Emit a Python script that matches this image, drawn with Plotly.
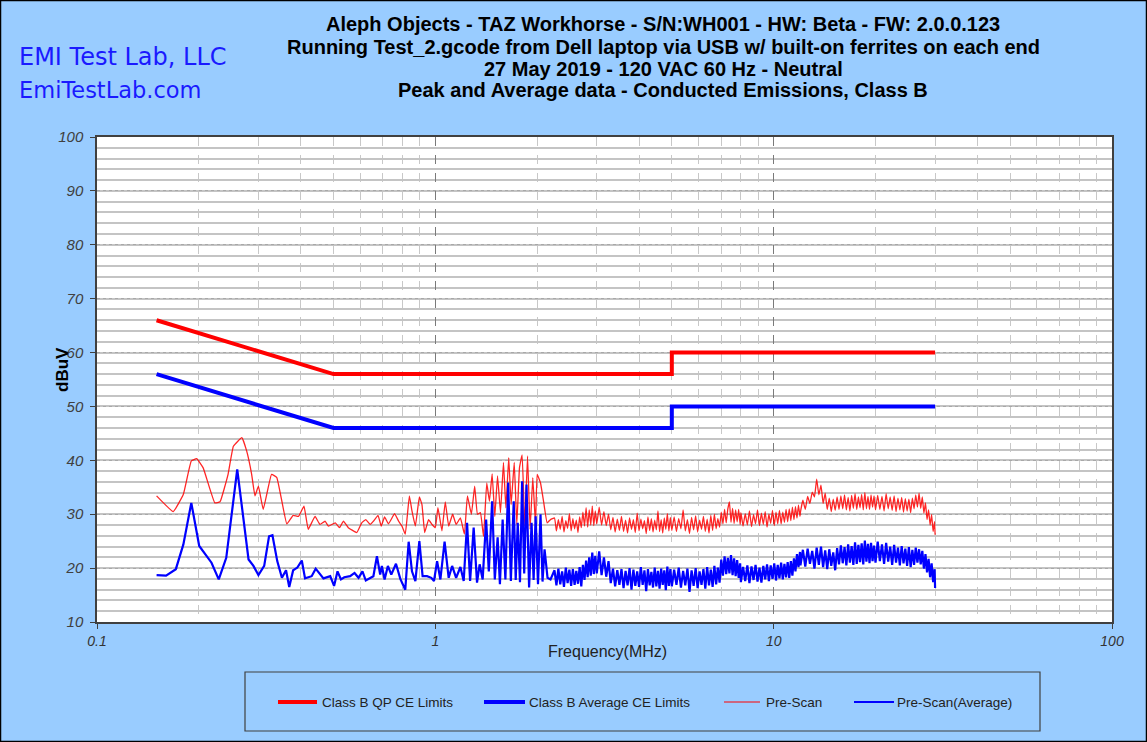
import plotly.graph_objects as go

# ---------------- data ----------------
qp_limit_freq = [0.15, 0.5, 5.0, 5.0, 30.0]
qp_limit_db = [66, 56, 56, 60, 60]
avg_limit_freq = [0.15, 0.5, 5.0, 5.0, 30.0]
avg_limit_db = [56, 46, 46, 50, 50]

peak_lf_freq = [0.150, 0.168, 0.180, 0.190, 0.197, 0.206, 0.223, 0.231, 0.244, 0.253,
                0.268, 0.277, 0.2865, 0.293, 0.300, 0.310, 0.328, 0.340, 0.364, 0.380,
                0.394, 0.409, 0.421, 0.441, 0.456, 0.472, 0.483, 0.506, 0.521, 0.535,
                0.553, 0.586, 0.606, 0.623, 0.642, 0.656, 0.677, 0.692, 0.708, 0.727,
                0.758, 0.779, 0.797, 0.815, 0.838, 0.853, 0.873, 0.897, 0.913, 0.930,
                0.955, 0.978, 1.000, 1.018, 1.046, 1.070, 1.095, 1.125, 1.152, 1.186,
                1.219, 1.244, 1.278, 1.307, 1.332, 1.359, 1.388, 1.419, 1.445, 1.472,
                1.499, 1.527, 1.558, 1.590, 1.616, 1.648, 1.675, 1.711, 1.741, 1.773,
                1.805, 1.838, 1.873, 1.906, 1.941, 1.977, 2.000, 2.046, 2.092, 2.14,
                2.19]
peak_lf_db = [33.4, 30.5, 33.7, 39.9, 40.3, 38.6, 32.1, 32.3, 37.4, 42.6,
              44.2, 41.7, 37.4, 33.4, 35.2, 30.9, 37.4, 36.8, 28.2, 29.8,
              29.6, 31.5, 27.2, 29.6, 28.1, 28.7, 27.8, 28.4, 27.5, 28.7,
              27.5, 26.6, 28.4, 29.0, 28.1, 28.7, 29.8, 27.8, 29.5, 28.2,
              30.1, 28.7, 27.8, 26.3, 33.4, 30.6, 27.8, 33.2, 31.8, 26.6,
              29.0, 28.1, 27.5, 31.2, 26.9, 32.3, 27.8, 30.0, 28.1, 29.3,
              26.3, 33.4, 30.0, 35.2, 30.0, 30.3, 25.9, 35.8, 32.4, 37.5,
              29.6, 37.1, 30.3, 39.6, 31.2, 40.5, 31.8, 39.6, 28.1, 38.6,
              41.0, 27.8, 40.8, 27.2, 36.8, 28.1, 37.4, 35.8, 32.1, 28.4,
              29.0]

avg_lf_freq = [0.150, 0.160, 0.171, 0.180, 0.190, 0.2005, 0.218, 0.229, 0.241, 0.2597,
               0.2805, 0.290, 0.300, 0.312, 0.3225, 0.330, 0.341, 0.352, 0.362, 0.370,
               0.380, 0.391, 0.403, 0.412, 0.431, 0.443, 0.467, 0.489, 0.502, 0.514,
               0.526, 0.538, 0.560, 0.577, 0.593, 0.609, 0.623, 0.642, 0.656, 0.672,
               0.687, 0.695, 0.708, 0.724, 0.741, 0.765, 0.788, 0.815, 0.834, 0.853,
               0.873, 0.897, 0.917, 0.945, 0.973, 0.991, 1.012, 1.035, 1.065, 1.095,
               1.121, 1.152, 1.186, 1.213, 1.241, 1.267, 1.298, 1.328, 1.352, 1.380,
               1.413, 1.439, 1.472, 1.499, 1.528, 1.552, 1.581, 1.611, 1.642, 1.672,
               1.705, 1.728, 1.752, 1.779, 1.805, 1.831, 1.860, 1.893, 1.925, 1.952,
               1.979, 2.011, 2.046, 2.074, 2.103, 2.146, 2.19]
avg_lf_db = [18.7, 18.6, 19.8, 24.4, 32.1, 24.1, 21.0, 17.9, 21.9, 38.3,
             21.6, 20.4, 18.7, 20.4, 25.9, 26.1, 21.3, 18.2, 19.6, 16.5,
             19.6, 20.1, 21.4, 18.1, 18.5, 19.9, 18.1, 18.5, 16.7, 19.4,
             17.9, 18.3, 18.5, 19.1, 18.2, 19.4, 17.7, 18.2, 18.5, 22.2,
             18.8, 20.4, 17.9, 20.4, 18.8, 20.8, 18.0, 16.0, 24.9, 19.4,
             17.6, 25.0, 18.5, 18.5, 18.2, 17.6, 21.3, 17.9, 24.9, 18.2,
             20.4, 18.2, 20.2, 17.6, 28.4, 17.6, 27.5, 17.3, 20.7, 17.9,
             29.0, 19.4, 32.4, 17.9, 25.7, 17.0, 29.0, 17.9, 35.9, 17.6,
             32.4, 17.8, 28.4, 17.4, 36.1, 19.0, 35.5, 16.4, 28.4, 17.8,
             29.6, 17.0, 30.0, 17.5, 23.5, 18.2, 17.9]

# shared sweep frequencies above 2.2 MHz (MHz)
hf_freq = [2.25, 2.28, 2.31, 2.34, 2.37, 2.40, 2.43, 2.46, 2.49, 2.52, 2.55, 2.58, 2.61,
           2.64, 2.67, 2.70, 2.73, 2.76, 2.79, 2.82, 2.85, 2.88, 2.91, 2.94, 2.97,
           3.00, 3.05, 3.10, 3.15, 3.20, 3.25, 3.30, 3.35, 3.40, 3.45, 3.50, 3.55, 3.60,
           3.65, 3.70, 3.75, 3.80, 3.85, 3.90, 3.95, 4.00, 4.05, 4.10, 4.15, 4.20, 4.25,
           4.30, 4.35, 4.40, 4.45, 4.50, 4.55, 4.60, 4.65, 4.70, 4.75, 4.80, 4.85, 4.90, 4.95,
           5.00, 5.08, 5.16, 5.24, 5.32, 5.40, 5.48, 5.56, 5.64, 5.72, 5.80, 5.88, 5.96,
           6.04, 6.12, 6.20, 6.28, 6.36, 6.44, 6.52, 6.60, 6.68, 6.76, 6.84, 6.92,
           7.00, 7.08, 7.16, 7.24, 7.32, 7.40, 7.48, 7.56, 7.64, 7.72, 7.80, 7.88, 7.96,
           8.00, 8.12, 8.24, 8.36, 8.48, 8.60, 8.72, 8.84, 8.96, 9.08, 9.20, 9.32, 9.44,
           9.56, 9.68, 9.80, 9.92, 10.04, 10.16, 10.28, 10.40, 10.52, 10.64, 10.76, 10.88,
           11.00, 11.12, 11.24, 11.36, 11.48, 11.60, 11.72, 11.84, 11.96,
           12.0, 12.2, 12.4, 12.6, 12.8, 13.0, 13.2, 13.4, 13.6, 13.8, 14.0, 14.2, 14.4,
           14.6, 14.8, 15.0, 15.2, 15.4, 15.6, 15.8, 16.0, 16.2, 16.4, 16.6, 16.8, 17.0,
           17.2, 17.4, 17.6, 17.8, 18.0, 18.2, 18.4, 18.6, 18.8, 19.0, 19.2, 19.4, 19.6, 19.8,
           20.0, 20.3, 20.6, 20.9, 21.2, 21.5, 21.8, 22.1, 22.4, 22.7, 23.0, 23.3, 23.6,
           23.9, 24.2, 24.5, 24.8, 25.1, 25.4, 25.7, 26.0, 26.3, 26.6, 26.9, 27.2, 27.5,
           27.8, 28.1, 28.4, 28.7, 29.0, 29.3, 29.6, 29.9, 30.0]

peak_hf_db = [29.3, 26.9, 29.0, 27.2, 29.6, 26.7, 28.8, 27.4, 30.1, 26.9, 29.2, 27.3, 28.9,
              26.6, 29.5, 27.5, 30.4, 27.8, 31.2, 27.6, 30.8, 28.0, 31.5, 27.9, 30.6,
              28.2, 31.3, 28.0, 30.5, 27.9, 30.0, 27.1, 29.4, 26.7, 29.1, 27.0, 29.6, 26.8,
              28.9, 26.5, 29.3, 27.2, 29.0, 26.6, 30.2, 26.9, 29.1, 27.3, 28.8, 26.4, 29.5,
              27.0, 29.2, 26.7, 28.9, 27.1, 30.6, 26.8, 29.0, 26.5, 29.3, 27.2, 30.1, 26.9, 29.4,
              27.0, 29.5, 26.8, 29.2, 27.3, 30.8, 26.9, 29.0, 26.4, 29.4, 27.1, 29.7, 26.7,
              28.9, 27.2, 29.6, 26.8, 29.1, 26.5, 29.8, 27.0, 30.0, 27.3, 29.2, 27.6,
              30.4, 28.2, 30.9, 28.4, 31.0, 32.3, 28.5, 31.1, 28.3, 30.8, 28.6, 30.9, 28.1,
              30.3, 27.8, 30.1, 28.0, 30.6, 27.7, 29.9, 28.2, 30.8, 27.9, 30.2, 28.1, 30.5,
              27.6, 30.0, 28.3, 30.7, 27.9, 30.4, 28.2, 30.7, 28.2, 30.4, 28.5, 30.9,
              28.6, 31.0, 28.8, 31.3, 29.0, 31.4, 29.3, 31.7, 29.6,
              30.4, 32.6, 30.9, 33.3, 32.0, 34.1, 33.2, 36.5, 33.6, 35.4, 32.0, 33.9, 30.9,
              33.0, 30.5, 32.8, 30.7, 33.2, 30.9, 33.4, 31.0, 33.6, 30.8, 33.1, 30.6, 33.5,
              31.1, 33.8, 30.9, 33.2, 31.2, 33.7, 30.8, 34.0, 31.0, 33.3, 30.9, 33.6, 31.3, 33.4,
              30.8, 33.5, 30.9, 33.3, 30.6, 33.8, 31.0, 33.2, 30.7, 33.4, 30.5, 33.0, 30.8,
              33.1, 30.4, 32.9, 30.6, 32.8, 30.3, 33.0, 31.0, 33.6, 31.3, 33.9, 31.1, 33.2,
              30.2, 32.1, 29.0, 30.8, 28.0, 29.9, 26.8, 28.6, 26.2]

avg_hf_db = [19.6, 16.8, 19.9, 17.0, 19.4, 16.5, 20.1, 17.2, 19.7, 16.7, 19.8, 16.9, 19.5,
             17.1, 20.2, 16.6, 20.6, 17.8, 21.4, 18.3, 22.0, 18.6, 22.9, 18.9, 22.3,
             19.0, 23.1, 18.7, 22.0, 18.4, 21.3, 17.2, 19.9, 16.6, 19.6, 16.9, 19.8, 16.3,
             19.5, 16.8, 20.0, 16.0, 19.7, 16.7, 19.4, 16.5, 20.2, 16.9, 19.6, 15.7, 19.8,
             16.8, 19.3, 16.4, 20.1, 16.6, 19.5, 16.2, 19.9, 16.9, 19.6, 15.9, 20.3, 16.7, 19.8,
             16.6, 19.7, 16.9, 20.1, 16.4, 19.5, 16.8, 19.9, 15.6, 19.6, 16.7, 20.0, 16.3,
             19.4, 16.9, 19.8, 16.2, 20.2, 16.8, 19.7, 16.5, 20.4, 17.0, 20.1, 17.3,
             21.6, 18.6, 22.2, 18.9, 21.9, 19.0, 22.4, 18.7, 21.8, 18.5, 21.5, 18.2, 20.9,
             17.4, 20.2, 17.6, 20.5, 17.2, 20.3, 17.8, 20.6, 17.5, 20.1, 17.3, 20.4, 17.9,
             20.7, 17.6, 20.5, 18.0, 20.9, 17.7, 20.6, 18.1, 21.0, 17.9, 20.8, 18.3,
             21.1, 18.2, 21.3, 18.6, 21.8, 19.4, 22.6, 20.2, 23.0,
             20.5, 23.4, 20.3, 23.6, 20.8, 23.2, 19.9, 23.8, 20.6, 24.0, 20.2, 23.3, 19.8,
             23.5, 20.4, 22.9, 19.6, 23.7, 20.7, 24.2, 20.9, 23.9, 20.5, 24.4, 21.0, 24.1,
             20.6, 24.8, 20.8, 24.3, 21.1, 24.6, 20.7, 25.1, 21.2, 24.5, 20.9, 24.7, 21.3, 24.2,
             21.0, 24.9, 21.3, 24.4, 20.8, 24.7, 21.2, 24.0, 20.6, 24.3, 21.0, 23.8, 20.5,
             24.1, 20.9, 23.6, 20.4, 23.9, 20.2, 23.4, 20.6, 23.8, 21.0, 23.5, 20.7, 23.2,
             19.9, 22.6, 19.2, 21.7, 18.3, 20.9, 17.4, 19.8, 16.3]

y_ticks = [10, 20, 30, 40, 50, 60, 70, 80, 90, 100]
x_ticks = [0.1, 1, 10, 100]
x_tick_labels = ["0.1", "1", "10", "100"]

series_names = ["Class B QP CE Limits", "Class B Average CE Limits", "Pre-Scan", "Pre-Scan(Average)"]

peak_freq = peak_lf_freq + hf_freq
peak_db = peak_lf_db + peak_hf_db
avg_freq = avg_lf_freq + hf_freq
avg_db = avg_lf_db + avg_hf_db

# ---------------- layout helpers ----------------
W, H = 1147, 742
ML, MR, MT, MB = 97, 35, 137, 120
PW, PH = W - ML - MR, H - MT - MB


def px(x):
    return (x - ML) / PW


def py(y):
    return (H - MB - y) / PH


FONT = "Liberation Sans, Arial, sans-serif"
RED = "#FF0000"
BLUE = "#0000FF"

fig = go.Figure()
fig.add_trace(go.Scatter(x=peak_freq, y=peak_db, mode="lines", name=series_names[2],
                         line=dict(color="rgba(255,0,0,0.85)", width=1.3, shape="spline", smoothing=0.3),
                         showlegend=False))
fig.add_trace(go.Scatter(x=avg_freq, y=avg_db, mode="lines", name=series_names[3],
                         line=dict(color=BLUE, width=2.2), showlegend=False))
fig.add_trace(go.Scatter(x=qp_limit_freq, y=qp_limit_db, mode="lines", name=series_names[0],
                         line=dict(color=RED, width=4), showlegend=False))
fig.add_trace(go.Scatter(x=avg_limit_freq, y=avg_limit_db, mode="lines", name=series_names[1],
                         line=dict(color=BLUE, width=4), showlegend=False))

fig.update_xaxes(type="log", range=[-1, 2], tickvals=x_ticks, ticktext=x_tick_labels,
                 showline=True, linecolor="#404040", linewidth=1.5, mirror=True,
                 ticks="outside", ticklen=5, tickcolor="#404040",
                 tickfont=dict(family=FONT, size=14, color="#333333", style="italic"),
                 showgrid=True, gridcolor="#7a7a7a", griddash="dash", gridwidth=1,
                 minor=dict(dtick="D1", showgrid=True, gridcolor="#c8c8c8", griddash="dash",
                            gridwidth=1, ticks=""),
                 zeroline=False)
fig.update_yaxes(range=[10, 100], tickvals=y_ticks,
                 showline=True, linecolor="#404040", linewidth=1.5, mirror=True,
                 ticks="outside", ticklen=5, tickcolor="#404040", ticklabelstandoff=4,
                 tickfont=dict(family=FONT, size=15, color="#404040", style="italic"),
                 showgrid=True, gridcolor="#a8a8a8", griddash="dot", gridwidth=1,
                 minor=dict(dtick=2, showgrid=True, gridcolor="#c4c4c4", griddash="solid",
                            gridwidth=1.5, ticks=""),
                 zeroline=False)

shapes = []
annotations = []

# outer border of whole picture
shapes.append(dict(type="rect", xref="paper", yref="paper",
                   x0=px(0.5), x1=px(W - 0.5), y0=py(H - 0.5), y1=py(0.5),
                   line=dict(color="#000000", width=1.5), fillcolor="rgba(0,0,0,0)", layer="below"))

# legend box
shapes.append(dict(type="rect", xref="paper", yref="paper",
                   x0=px(245), x1=px(1040), y0=py(731), y1=py(672),
                   line=dict(color="#404040", width=1.2), fillcolor="rgba(0,0,0,0)"))
leg_y = py(702)
leg_items = [
    (278, 317, 320, RED, 4, series_names[0]),
    (484, 525, 527, BLUE, 4, series_names[1]),
    (724, 760, 764, RED, 1, series_names[2]),
    (854, 894, 895, BLUE, 2, series_names[3]),
]
for x0, x1, xt, col, w, name in leg_items:
    shapes.append(dict(type="line", xref="paper", yref="paper", x0=px(x0), x1=px(x1),
                       y0=leg_y, y1=leg_y, line=dict(color=col, width=w)))
    annotations.append(dict(xref="paper", yref="paper", x=px(xt), y=leg_y, text=name,
                            showarrow=False, xanchor="left", yanchor="middle",
                            font=dict(family=FONT, size=13.5, color="#222222")))

# title (one annotation per line)
title_lines = [
    "Aleph Objects - TAZ Workhorse - S/N:WH001 - HW: Beta - FW: 2.0.0.123",
    "Running Test_2.gcode from Dell laptop via USB w/ built-on ferrites on each end",
    "27 May 2019 - 120 VAC 60 Hz - Neutral",
    "Peak and Average data - Conducted Emissions, Class B",
]
title_y = [24, 46.5, 68.5, 90.5]
for t, yy in zip(title_lines, title_y):
    annotations.append(dict(xref="paper", yref="paper", x=px(663), y=py(yy),
                            text="<b>%s</b>" % t,
                            showarrow=False, xanchor="center", yanchor="middle",
                            font=dict(family=FONT, size=20, color="#000000")))

# company text
annotations.append(dict(xref="paper", yref="paper", x=px(17), y=py(57), text="EMI Test Lab, LLC",
                        showarrow=False, xanchor="left", yanchor="middle",
                        font=dict(family="Comic Sans MS, DejaVu Sans, sans-serif", size=24, color="#1a1aff")))
annotations.append(dict(xref="paper", yref="paper", x=px(17), y=py(90), text="EmiTestLab.com",
                        showarrow=False, xanchor="left", yanchor="middle",
                        font=dict(family="Comic Sans MS, DejaVu Sans, sans-serif", size=22.5, color="#1a1aff")))

# axis titles
annotations.append(dict(xref="paper", yref="paper", x=px(607), y=py(651), text="Frequency(MHz)",
                        showarrow=False, xanchor="center", yanchor="middle",
                        font=dict(family=FONT, size=16, color="#222222")))
annotations.append(dict(xref="paper", yref="paper", x=px(62), y=py(370), text="<b>dBuV</b>",
                        showarrow=False, xanchor="center", yanchor="middle", textangle=-90,
                        font=dict(family=FONT, size=17, color="#000000")))

fig.update_layout(width=W, height=H, margin=dict(l=ML, r=MR, t=MT, b=MB, pad=0),
                  paper_bgcolor="#99CCFF", plot_bgcolor="#FFFFFF",
                  shapes=shapes, annotations=annotations, showlegend=False,
                  font=dict(family=FONT))

fig.write_html("out.html", config={"displayModeBar": False},
               post_script="document.body.style.margin='0';")
